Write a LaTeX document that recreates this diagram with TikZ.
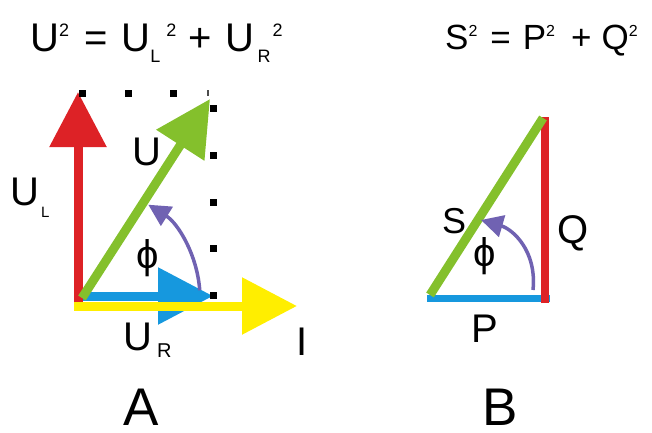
\documentclass[tikz,border=0pt]{standalone}
\usepackage{fontspec}
\setmainfont{Liberation Sans}
\usepackage{xcolor}
\usetikzlibrary{arrows.meta}

\definecolor{phasered}{RGB}{221,34,38}
\definecolor{phasegreen}{RGB}{132,192,44}
\definecolor{phaseblue}{RGB}{22,152,222}
\definecolor{phaseyellow}{RGB}{255,238,0}
\definecolor{phasepurple}{RGB}{112,98,178}

% small raised / lowered text: size, shift, text
\newcommand{\hightxt}[3]{\raisebox{#2pt}{\fontsize{#1}{#1}\selectfont #3}}
\newcommand{\lowtxt}[3]{\raisebox{-#2pt}{\fontsize{#1}{#1}\selectfont #3}}

\begin{document}
\begin{tikzpicture}[
        x=1pt, y=1pt,
        vector/.style={line width=9pt, -{Triangle[length=55pt, width=55pt]}},
        side/.style={line width=8pt},
        angle/.style={draw=phasepurple, line width=3.5pt, -{Triangle[length=22pt, width=22pt]}},
        dot/.style={rectangle, fill=black, inner sep=0pt, minimum size=7pt},
        tick/.style={rectangle, fill=black!70, inner sep=0pt, minimum width=2pt, minimum height=6pt},
        label/.style={inner sep=0pt, font=\fontsize{40}{44}\selectfont},
        title/.style={inner sep=0pt, anchor=base west},
        letter/.style={inner sep=0pt, anchor=base, font=\fontsize{53}{56}\selectfont}
    ]
    \useasboundingbox (0,0) rectangle (652,432);

    % titles
    \node (eqA) [title, font=\fontsize{40}{44}\selectfont] at (30,380)
        {U\hightxt{18}{15.5}{2}\hspace{15pt}=\hspace{14pt}U\lowtxt{18}{10}{L}\hspace{6pt}\hightxt{18}{15.5}{2}\hspace{12pt}+\hspace{14pt}U\hspace{3pt}\lowtxt{18}{10}{R}\hspace{2pt}\hightxt{18}{15.5}{2}};
    \node (eqB) [title, font=\fontsize{35}{40}\selectfont] at (445,382)
        {S\hightxt{16}{13.5}{2}\hspace{13pt}=\hspace{12pt}P\hightxt{16}{13.5}{2}\hspace{16pt}+\hspace{10pt}Q\hightxt{16}{13.5}{2}};

    % diagram A
    \coordinate (ulbase) at (78,130);
    \coordinate (ultip) at (78,340);
    \coordinate (ubase) at (82,134);
    \coordinate (utip) at (210,333);
    \coordinate (urbase) at (78,136);
    \coordinate (urtip) at (213,136);
    \coordinate (ibase) at (74,126);
    \coordinate (itip) at (297,126);
    \coordinate (phiA) at (90,134);

    \draw [vector, phaseblue] (urbase) -- (urtip);
    \draw [vector, phaseyellow] (ibase) -- (itip);
    \draw [vector, phasered] (ulbase) -- (ultip);
    \draw [vector, phasegreen] (ubase) -- (utip);
    \draw [angle] ([shift={(4:110)}]phiA) arc (4:58:110);

    \foreach \x [count=\i] in {82,128,173}
        \node (top\i) [dot] at (\x,339) {};
    \node (topend) [tick] at (208,339) {};
    \foreach \y [count=\i] in {324,277,230,184,137}
        \node (side\i) [dot] at (213,\y) {};

    \node (lblU) [label, anchor=base] at (147,267) {U};
    \node (lblUL) [label, anchor=base west] at (10,227) {U\hspace{2pt}\lowtxt{15}{12}{L}};
    \node (lblphiA) [label] at (148,174) {ϕ};
    \node (lblUR) [label, anchor=base west] at (123,82) {U\hspace{5pt}\lowtxt{20}{7}{R}};
    \node (lblI) [label, anchor=base] at (302,77) {I};
    \node (capA) [letter] at (141,7) {A};

    % diagram B
    \coordinate (pbase) at (427,134);
    \coordinate (ptip) at (550,134);
    \coordinate (qbase) at (545,129);
    \coordinate (qtip) at (545,315);
    \coordinate (sbase) at (430,137);
    \coordinate (stip) at (543,314);
    \coordinate (arcB) at (533,142);
    \coordinate (arcBend) at (481,212);

    \draw [side, phaseblue, line width=7pt] (pbase) -- (ptip);
    \draw [side, phasered] (qbase) -- (qtip);
    \draw [side, phasegreen, line width=9pt] (sbase) -- (stip);
    \draw [angle] (arcB) .. controls (537,182) and (512,203) .. (arcBend);

    \node (lblS) [label, anchor=base, font=\fontsize{36}{40}\selectfont] at (454,199) {S};
    \node (lblphiB) [label] at (485,176) {ϕ};
    \node (lblQ) [label] at (573,199) {Q};
    \node (lblP) [label, anchor=base] at (485,90) {P};
    \node (capB) [letter] at (500,7) {B};

\end{tikzpicture}
\end{document}
